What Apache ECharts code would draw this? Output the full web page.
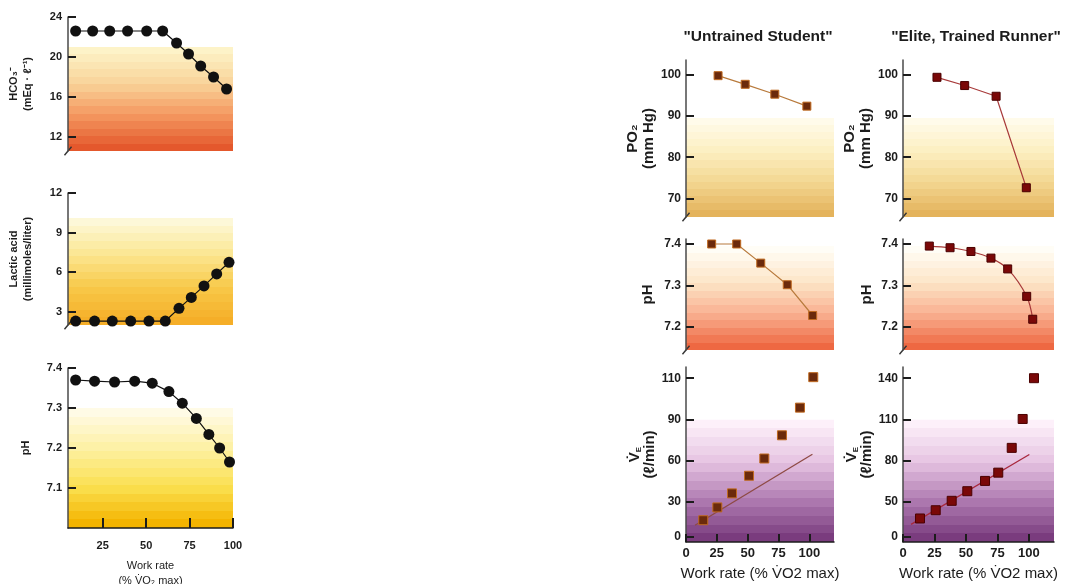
<!DOCTYPE html>
<html>
<head>
<meta charset="utf-8">
<title>Work rate responses</title>
<script src="https://cdn.jsdelivr.net/npm/echarts@6/dist/echarts.min.js"></script>
<style>
  html, body { margin: 0; padding: 0; background: #fff; }
  #main { width: 1069px; height: 584px; }
</style>
</head>
<body>
<div id="main"></div>
<script>
// left column (% VO2 max on x)
var hco3Work = [9.4, 19.2, 29.0, 39.3, 50.3, 59.5, 67.5, 74.4, 81.4, 88.8, 96.3];
var hco3 = [22.6, 22.6, 22.6, 22.6, 22.6, 22.6, 21.4, 20.3, 19.1, 18.0, 16.8];
var lacticWork = [9.4, 20.3, 30.5, 41.1, 51.6, 61.0, 68.9, 76.0, 83.3, 90.6, 97.7];
var lactic = [2.3, 2.3, 2.3, 2.3, 2.3, 2.3, 3.26, 4.09, 4.96, 5.87, 6.75];
var phWork = [9.4, 20.3, 31.8, 43.4, 53.5, 63.1, 70.8, 78.9, 86.1, 92.3, 98.0];
var ph = [7.37, 7.367, 7.365, 7.367, 7.362, 7.341, 7.312, 7.274, 7.234, 7.2, 7.165];

var hco3Ticks = [12, 16, 20, 24];
var lacticTicks = [3, 6, 9, 12];
var phTicks = [7.1, 7.2, 7.3, 7.4];
var leftWorkTicks = [25, 50, 75, 100];

// "Untrained Student"
var po2UntrainedWork = [26, 48, 72, 98];
var po2Untrained = [99.8, 97.7, 95.3, 92.4];
var phUntrainedWork = [20.8, 41.1, 60.6, 82.1, 102.7];
var phUntrained = [7.40, 7.40, 7.354, 7.302, 7.228];
var veUntrainedWork = [14, 25.4, 37.3, 51.1, 63.5, 77.8, 92.4, 103.2];
var veUntrained = [14.3, 25.2, 36.2, 49.2, 61.9, 78.7, 95.8, 110.5];
var veUntrainedFitWork = [7.3, 102.5];
var veUntrainedFit = [10, 65];

// "Elite, Trained Runner"
var po2EliteWork = [27, 49, 74, 98];
var po2Elite = [99.4, 97.4, 94.8, 72.6];
var phEliteWork = [20.9, 37.4, 54, 69.9, 83.2, 98.3, 103.1];
var phElite = [7.395, 7.391, 7.382, 7.366, 7.340, 7.274, 7.219];
var veEliteWork = [13.5, 26, 38.7, 51.1, 65.2, 75.7, 86.4, 95.1, 104.1];
var veElite = [26.3, 38, 50.7, 57.8, 65.4, 71.5, 89.6, 110.5, 140];
var veEliteFitWork = [6.4, 100.4];
var veEliteFit = [18, 84.8];

var po2Ticks = [70, 80, 90, 100];
var phRightTicks = [7.2, 7.3, 7.4];
var veUntrainedTicks = [0, 30, 60, 90, 110];
var veEliteTicks = [0, 50, 80, 110, 140];
var rightWorkTicks = [0, 25, 50, 75, 100];

// the VE axes are drawn broken: ticks sit at these positions (first gap is shorter)
var veTickPos = [0, 0.85, 1.83, 2.83, 3.83];

var ink = '#1c1c1c';
var narrow = '"Liberation Sans Narrow", "Liberation Sans", Arial, sans-serif';
var sans = '"Liberation Sans", Arial, sans-serif';

function hex(c) {
  return [parseInt(c.substr(1, 2), 16), parseInt(c.substr(3, 2), 16), parseInt(c.substr(5, 2), 16)];
}
function mix(a, b, t) {
  var p = hex(a), q = hex(b);
  return 'rgb(' + p.map(function(v, i) { return Math.round(v + (q[i] - v) * t); }).join(',') + ')';
}
// banded vertical gradient, like the printed backgrounds
function banded(keys, n) {
  var stops = [];
  for (var i = 0; i < n; i++) {
    var seg = i / (n - 1) * (keys.length - 1);
    var k = Math.min(Math.floor(seg), keys.length - 2);
    var c = mix(keys[k], keys[k + 1], seg - k);
    stops.push({ offset: i / n, color: c });
    stops.push({ offset: (i + 1) / n, color: c });
  }
  return { type: 'linear', x: 0, y: 0, x2: 0, y2: 1, colorStops: stops };
}
function pair(xs, ys) {
  return xs.map(function(x, i) { return [x, ys[i]]; });
}
function vePos(v, ticks) {
  for (var i = 1; i < ticks.length; i++) {
    if (v <= ticks[i] || i == ticks.length - 1) {
      return veTickPos[i - 1] + (v - ticks[i - 1]) / (ticks[i] - ticks[i - 1]) * (veTickPos[i] - veTickPos[i - 1]);
    }
  }
}
function pairVe(xs, ys, ticks) {
  return xs.map(function(x, i) { return [x, vePos(ys[i], ticks)]; });
}
function veLabel(ticks) {
  return function(v) {
    var best = 0;
    for (var i = 1; i < veTickPos.length; i++) {
      if (Math.abs(veTickPos[i] - v) < Math.abs(veTickPos[best] - v)) best = i;
    }
    return String(ticks[best]);
  };
}
function oneDec(v) { return v.toFixed(1); }

var veName = '{v|V\u0307}{s|E}\n{u|(\u2113/min)}';
var veRich = {
  v: { fontSize: 15, fontWeight: 'bold', fontFamily: sans, color: ink, lineHeight: 14 },
  s: { fontSize: 8, fontWeight: 'bold', fontFamily: sans, color: ink, verticalAlign: 'bottom', padding: [6, 0, 0, 0] },
  u: { fontSize: 15, fontWeight: 'bold', fontFamily: sans, color: ink, lineHeight: 14 }
};

var panels = [
  { left: 68, top: 17, width: 165, height: 134, xMin: 5, xMax: 100, yMin: 10.6, yMax: 24, yTicks: hco3Ticks,
    bgFrom: 21, bg: ['#fdf3c8', '#f9d49a', '#f49860', '#e4582c'], brk: true,
    name: 'HCO\u2083\u207b\n(mEq \u00b7 \u2113\u207b\u00b9)', nameGap: 33, left3: true },
  { left: 68, top: 193, width: 165, height: 132, xMin: 5, xMax: 100, yMin: 2, yMax: 12, yTicks: lacticTicks,
    bgFrom: 10.1, bg: ['#fdf8d8', '#fbe690', '#f8c848', '#f5ae28'], brk: true,
    name: 'Lactic acid\n(millimoles/liter)', nameGap: 33, left3: true },
  { left: 68, top: 368, width: 165, height: 160, xMin: 5, xMax: 100, yMin: 7.0, yMax: 7.4, yTicks: phTicks, fmt: oneDec,
    bgFrom: 7.3, bg: ['#fffbe6', '#fdf0a2', '#fbe050', '#f4b400'], brk: false,
    name: 'pH', nameGap: 35, left3: true, xShow: true },
  { left: 686, top: 60, width: 148, height: 157, xMin: 0, xMax: 120, yMin: 65.5, yMax: 103.6, yTicks: po2Ticks,
    bgFrom: 89.5, bg: ['#fffbea', '#fcefc0', '#f3d690', '#e4b35c'], brk: true,
    name: 'PO\u2082\n(mm Hg)', nameGap: 21 },
  { left: 903, top: 60, width: 151, height: 157, xMin: 0, xMax: 120, yMin: 65.5, yMax: 103.6, yTicks: po2Ticks,
    bgFrom: 89.5, bg: ['#fffbea', '#fcefc0', '#f3d690', '#e4b35c'], brk: true,
    name: 'PO\u2082\n(mm Hg)', nameGap: 22 },
  { left: 686, top: 239, width: 148, height: 111, xMin: 0, xMax: 120, yMin: 7.145, yMax: 7.412, yTicks: phRightTicks, fmt: oneDec,
    bgFrom: 7.395, bg: ['#fffdf6', '#fde6c8', '#f9b090', '#ee6842'], brk: true,
    name: 'pH', nameGap: 30 },
  { left: 903, top: 239, width: 151, height: 111, xMin: 0, xMax: 120, yMin: 7.145, yMax: 7.412, yTicks: phRightTicks, fmt: oneDec,
    bgFrom: 7.395, bg: ['#fffdf6', '#fde6c8', '#f9b090', '#ee6842'], brk: true,
    name: 'pH', nameGap: 28 },
  { left: 686, top: 367, width: 148, height: 175, xMin: 0, xMax: 120, yMin: -0.12, yMax: 4.1, yTicks: veTickPos, fmt: veLabel(veUntrainedTicks),
    bgFrom: veTickPos[3], bg: ['#fdf0fa', '#e6c4e2', '#b07cb2', '#7a3c7e'], brk: false,
    name: veName, rich: veRich, nameGap: 24, xShow: true },
  { left: 903, top: 367, width: 151, height: 175, xMin: 0, xMax: 120, yMin: -0.12, yMax: 4.1, yTicks: veTickPos, fmt: veLabel(veEliteTicks),
    bgFrom: veTickPos[3], bg: ['#fdf0fa', '#e6c4e2', '#b07cb2', '#7a3c7e'], brk: false,
    name: veName, rich: veRich, nameGap: 23, xShow: true }
];

var grids = [], xAxes = [], yAxes = [], series = [];

panels.forEach(function(p, i) {
  var isLeft = !!p.left3;
  grids.push({ left: p.left, top: p.top, width: p.width, height: p.height, containLabel: false, outerBoundsMode: 'none' });

  var x = { gridIndex: i, type: 'value', min: p.xMin, max: p.xMax, show: !!p.xShow, z: 5, splitLine: { show: false } };
  if (p.xShow) {
    var xt = isLeft ? leftWorkTicks : rightWorkTicks;
    x.axisLine = { show: true, onZero: false, lineStyle: { color: ink, width: 1.5 } };
    x.axisTick = { show: true, inside: true, length: isLeft ? 10 : 8, customValues: xt, lineStyle: { color: ink, width: 2 } };
    x.axisLabel = { customValues: xt, margin: isLeft ? 12 : 5, color: ink, fontWeight: 'bold',
      fontFamily: isLeft ? narrow : sans, fontSize: isLeft ? 11 : 13 };
    x.name = isLeft ? 'Work rate\n(% V\u0307O\u2082 max)' : 'Work rate (% V\u0307O2 max)';
    x.nameLocation = 'middle';
    x.nameGap = isLeft ? 30 : 24;
    x.nameTextStyle = isLeft
      ? { fontFamily: narrow, fontSize: 11, color: ink, lineHeight: 15 }
      : { fontFamily: sans, fontSize: 15, color: ink };
  }
  xAxes.push(x);

  var nts = isLeft
    ? { fontFamily: narrow, fontSize: 11, fontWeight: 'bold', color: ink, lineHeight: 14 }
    : { fontFamily: sans, fontSize: 15, fontWeight: 'bold', color: ink, lineHeight: 16 };
  if (p.rich) nts.rich = p.rich;
  yAxes.push({
    gridIndex: i, type: 'value', min: p.yMin, max: p.yMax, z: 5,
    splitLine: { show: false },
    axisLine: { show: true, onZero: false, lineStyle: { color: '#4a4a4a', width: 1.5 } },
    axisTick: { show: true, inside: true, length: 8, customValues: p.yTicks, lineStyle: { color: ink, width: 2 } },
    axisLabel: { customValues: p.yTicks, formatter: p.fmt, margin: isLeft ? 6 : 5, color: ink, fontWeight: 'bold',
      fontFamily: isLeft ? narrow : sans, fontSize: isLeft ? 11 : 12 },
    name: p.name, nameLocation: 'middle', nameRotate: 90, nameGap: p.nameGap, nameTextStyle: nts
  });

  // background bands and axis break marks
  series.push({
    type: 'line', xAxisIndex: i, yAxisIndex: i, data: [], z: 0, silent: true,
    markArea: { silent: true, itemStyle: { color: banded(p.bg, 14) }, data: [[{ yAxis: p.bgFrom }, { yAxis: p.yMin }]] },
    markPoint: p.brk ? {
      silent: true, symbol: 'rect', symbolSize: [1.4, 11], symbolRotate: -40,
      itemStyle: { color: '#333' }, label: { show: false },
      data: [{ coord: [p.xMin, p.yMin] }]
    } : undefined
  });
});

function dots(i, data) {
  return { type: 'line', xAxisIndex: i, yAxisIndex: i, data: data, z: 6,
    symbol: 'circle', symbolSize: 11, itemStyle: { color: '#111' },
    lineStyle: { color: '#111', width: 1.2 } };
}
function squares(i, data, who, joined, smooth) {
  var u = who == 'u';
  return { type: 'line', xAxisIndex: i, yAxisIndex: i, data: data, z: 6, smooth: smooth || false,
    symbol: 'rect', symbolSize: joined ? 8 : 9,
    itemStyle: { color: u ? '#6b2a0c' : '#7a0808', borderColor: u ? '#c06a20' : '#4a0000', borderWidth: 1 },
    lineStyle: joined ? { color: u ? '#b87a3c' : '#a83a3a', width: 1.2 } : { width: 0, opacity: 0 } };
}
function fit(i, data, color) {
  return { type: 'line', xAxisIndex: i, yAxisIndex: i, data: data, z: 6, symbol: 'none',
    lineStyle: { color: color, width: 1.3 } };
}

series.push(dots(0, pair(hco3Work, hco3)));
series.push(dots(1, pair(lacticWork, lactic)));
series.push(dots(2, pair(phWork, ph)));
series.push(squares(3, pair(po2UntrainedWork, po2Untrained), 'u', true));
series.push(squares(4, pair(po2EliteWork, po2Elite), 'e', true));
series.push(squares(5, pair(phUntrainedWork, phUntrained), 'u', true));
series.push(squares(6, pair(phEliteWork, phElite), 'e', true, 0.35));
series.push(fit(7, pairVe(veUntrainedFitWork, veUntrainedFit, veUntrainedTicks), '#8e4a44'));
series.push(squares(7, pairVe(veUntrainedWork, veUntrained, veUntrainedTicks), 'u', false));
series.push(fit(8, pairVe(veEliteFitWork, veEliteFit, veEliteTicks), '#a8283c'));
series.push(squares(8, pairVe(veEliteWork, veElite, veEliteTicks), 'e', false));

var option = {
  backgroundColor: '#fff',
  animation: false,
  grid: grids,
  xAxis: xAxes,
  yAxis: yAxes,
  series: series,
  graphic: [
    { type: 'text', x: 758, y: 29, style: { text: '"Untrained Student"', align: 'center', verticalAlign: 'top',
      fill: ink, font: 'bold 15.5px ' + sans } },
    { type: 'text', x: 976, y: 29, style: { text: '"Elite, Trained Runner"', align: 'center', verticalAlign: 'top',
      fill: ink, font: 'bold 15.5px ' + sans } }
  ]
};

var myChart = echarts.init(document.getElementById('main'));
myChart.setOption(option);
</script>
</body>
</html>
